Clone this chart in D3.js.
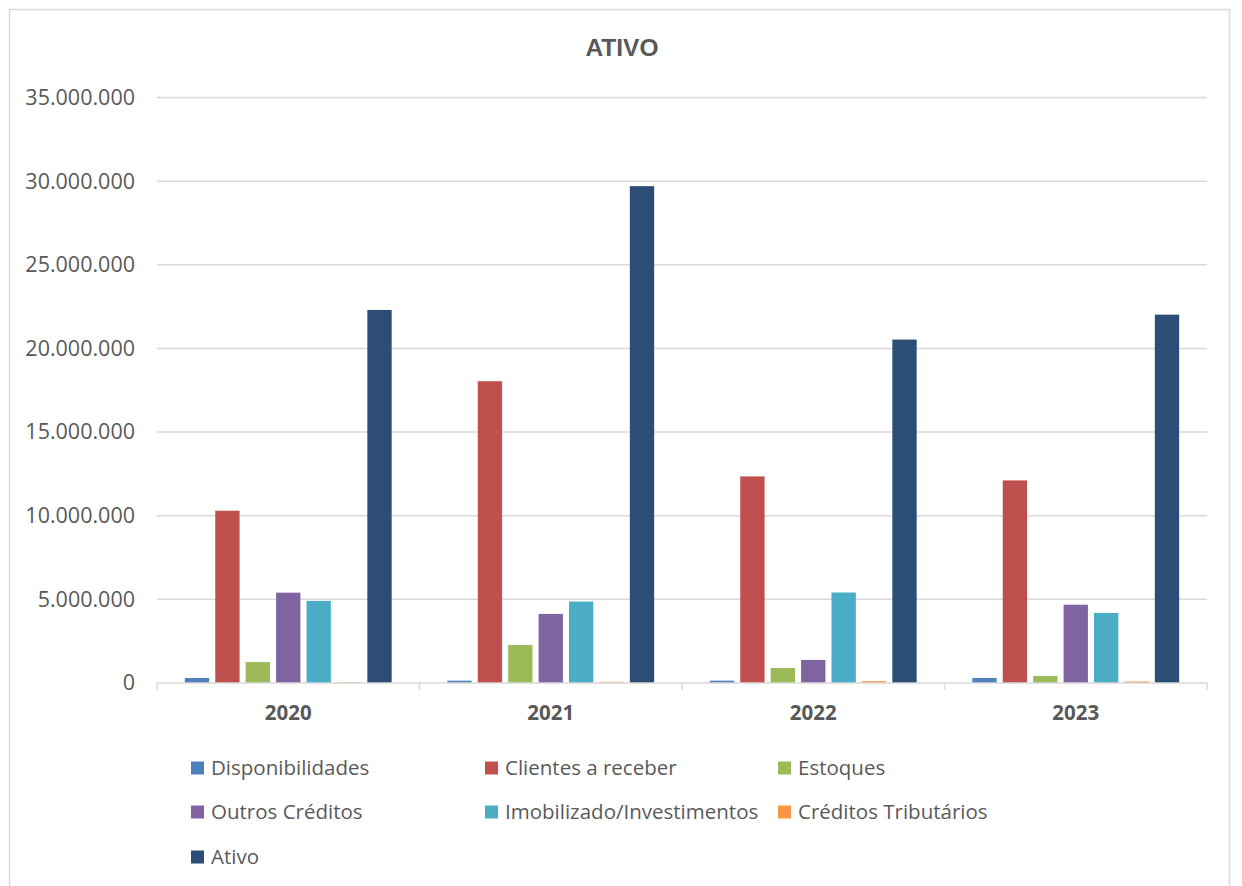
<!DOCTYPE html>
<html>
<head>
<meta charset="utf-8">
<script src="https://cdn.jsdelivr.net/npm/d3@7"></script>
<style>
  body { margin: 0; background: #fff; }
  svg { display: block; }
</style>
</head>
<body>
<div id="chart"></div>
<script>
// data
var categories = ["2020", "2021", "2022", "2023"];
var seriesNames = ["Disponibilidades", "Clientes a receber", "Estoques", "Outros Créditos",
                   "Imobilizado/Investimentos", "Créditos Tributários", "Ativo"];
var seriesColors = ["#4F81BD", "#C0504D", "#9BBB59", "#8064A2", "#4BACC6", "#F79646", "#2C4D75"];

var disponibilidades = [300000, 140000, 140000, 300000];
var clientesReceber = [10300000, 18040000, 12350000, 12110000];
var estoques = [1250000, 2270000, 900000, 420000];
var outrosCreditos = [5400000, 4130000, 1380000, 4680000];
var imobilizado = [4910000, 4870000, 5410000, 4190000];
var creditosTrib = [40000, 70000, 110000, 90000];
var ativo = [22300000, 29700000, 20530000, 22020000];

var yTicks = [0, 5000000, 10000000, 15000000, 20000000, 25000000, 30000000, 35000000];

var allSeries = [disponibilidades, clientesReceber, estoques, outrosCreditos,
                 imobilizado, creditosTrib, ativo];

var W = 1242, H = 886;
var textColor = "#595959";
var font = "'Open Sans', sans-serif";

var svg = d3.select("#chart").append("svg")
    .attr("width", W)
    .attr("height", H);

// chart border
svg.append("rect")
    .attr("x", 9.5)
    .attr("y", 9.5)
    .attr("width", 1220)
    .attr("height", 890)
    .style("fill", "none")
    .style("stroke", "#d9d9d9")
    .style("stroke-width", 1.5);

svg.append("text")
    .attr("x", 622)
    .attr("y", 56)
    .attr("text-anchor", "middle")
    .text("ATIVO")
    .style("font-family", "'Liberation Sans', Arial, sans-serif")
    .style("font-weight", "bold")
    .style("font-size", "24.5px")
    .style("fill", textColor);

var x0 = d3.scaleBand()
    .domain(categories)
    .range([157, 1207])
    .paddingInner(0)
    .paddingOuter(0);

var x1 = d3.scaleBand()
    .domain(seriesNames)
    .range([0, x0.bandwidth()])
    .paddingInner(0.2)
    .paddingOuter(0.915);

var y = d3.scaleLinear()
    .domain([0, 35000000])
    .range([683, 97.5]);

var fmt = function(d) { return d3.format(",")(d).replace(/,/g, "."); };

// gridlines
svg.append("g")
    .selectAll("line")
    .data(yTicks.slice(1))
    .join("line")
    .attr("x1", 157)
    .attr("x2", 1207)
    .attr("y1", function(d) { return y(d); })
    .attr("y2", function(d) { return y(d); })
    .style("stroke", "#d9d9d9")
    .style("stroke-width", 1.5);

// y axis labels
var yAxis = svg.append("g")
    .attr("transform", "translate(157,0)")
    .call(d3.axisLeft(y).tickValues(yTicks).tickFormat(fmt).tickSize(0).tickPadding(22));
yAxis.select(".domain").remove();
yAxis.selectAll("text")
    .style("font-family", font)
    .style("font-size", "21.5px")
    .style("fill", textColor);

// bars
var groups = svg.append("g")
    .selectAll("g")
    .data(categories)
    .join("g")
    .attr("transform", function(d) { return "translate(" + x0(d) + ",0)"; });

groups.selectAll("rect")
    .data(function(d, i) {
        return seriesNames.map(function(name, s) {
            return { name: name, value: allSeries[s][i], color: seriesColors[s] };
        });
    })
    .join("rect")
    .attr("x", function(d) { return x1(d.name); })
    .attr("width", x1.bandwidth())
    .attr("y", function(d) { return y(d.value); })
    .attr("height", function(d) { return y(0) - y(d.value); })
    .style("fill", function(d) { return d.color; });

// x axis
var xAxis = svg.append("g")
    .attr("transform", "translate(0," + y(0) + ")")
    .call(d3.axisBottom(x0).tickSize(0).tickPadding(22));
xAxis.select(".domain")
    .attr("d", "M157,0H1207")
    .style("stroke", "#d9d9d9")
    .style("stroke-width", 1.5);
xAxis.selectAll("text")
    .style("font-family", font)
    .style("font-weight", "bold")
    .style("font-size", "20.5px")
    .style("fill", textColor);

// category separators below the axis
svg.append("g")
    .selectAll("line")
    .data(categories.concat(["end"]))
    .join("line")
    .attr("x1", function(d, i) { return 157 + i * x0.step(); })
    .attr("x2", function(d, i) { return 157 + i * x0.step(); })
    .attr("y1", y(0))
    .attr("y2", y(0) + 7)
    .style("stroke", "#d9d9d9")
    .style("stroke-width", 1.5);

// legend
var legendCols = [191, 485, 778];
var legendRows = [768, 812, 857];

var legend = svg.append("g")
    .selectAll("g")
    .data(seriesNames)
    .join("g")
    .attr("transform", function(d, i) {
        return "translate(" + legendCols[i % 3] + "," + legendRows[Math.floor(i / 3)] + ")";
    });

legend.append("rect")
    .attr("x", 0)
    .attr("y", -6.5)
    .attr("width", 13)
    .attr("height", 13)
    .style("fill", function(d, i) { return seriesColors[i]; });

legend.append("text")
    .attr("x", 20)
    .attr("y", 0)
    .attr("dy", "0.35em")
    .text(function(d) { return d; })
    .style("font-family", font)
    .style("font-size", "20.5px")
    .style("fill", textColor);
</script>
</body>
</html>
